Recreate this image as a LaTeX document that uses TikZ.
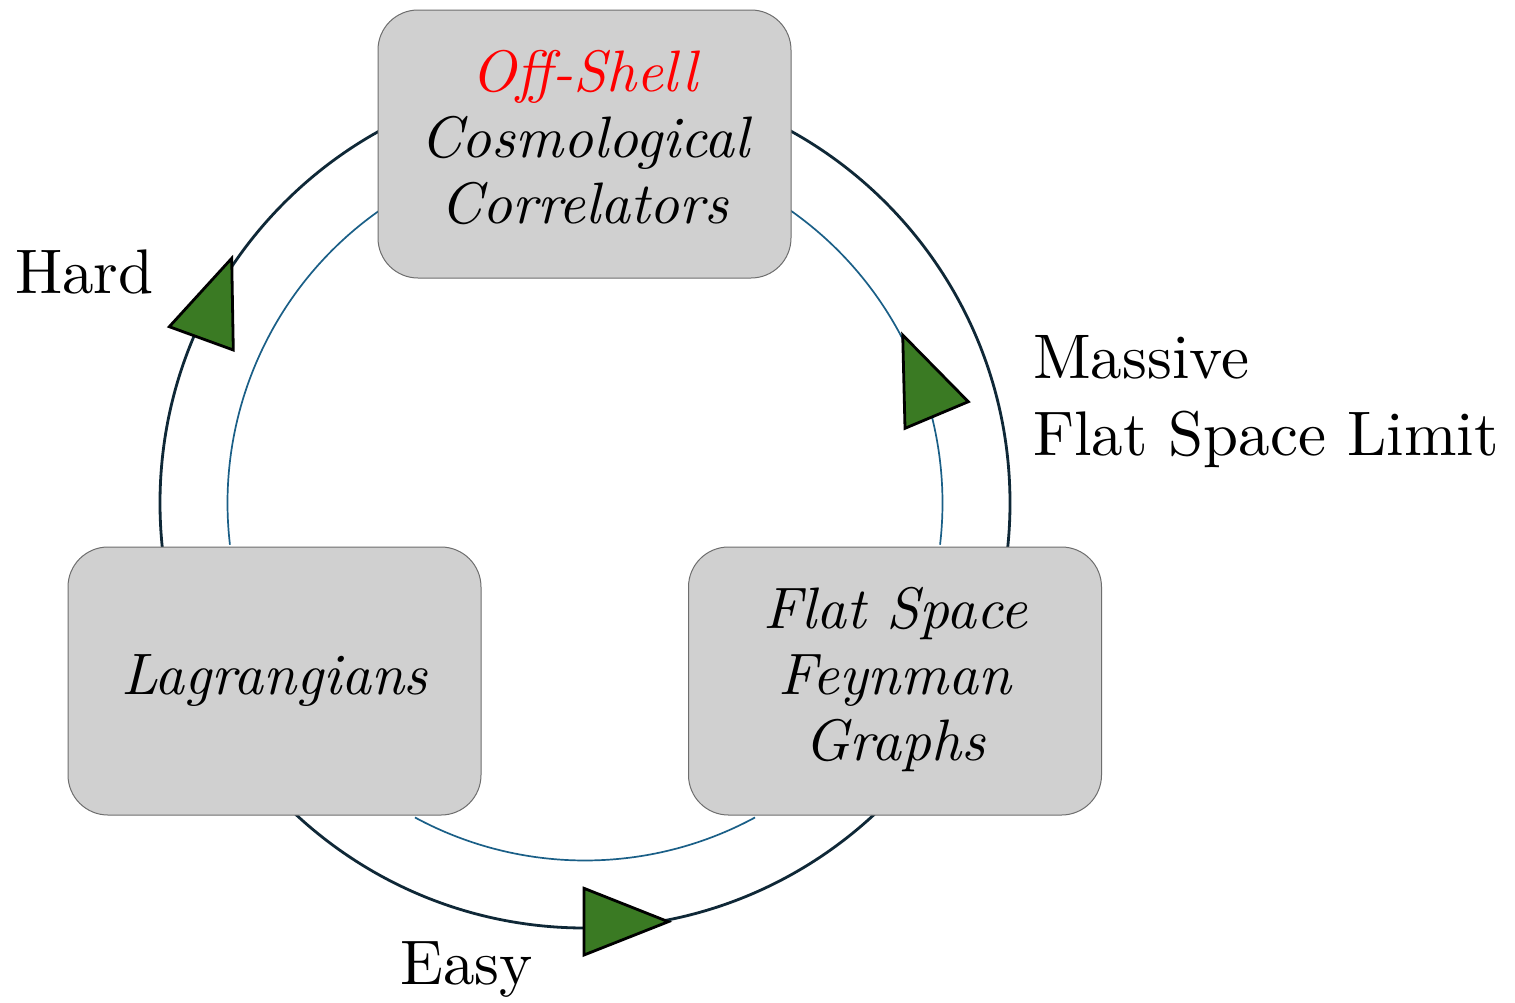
\documentclass[tikz,border=0pt]{standalone}
\usepackage{fontspec}
\setmainfont{lmroman10}[Extension=.otf, UprightFont=*-regular, ItalicFont=*-italic, BoldFont=*-bold, BoldItalicFont=*-bolditalic]
\definecolor{outerc}{RGB}{15,40,55}
\definecolor{innerc}{RGB}{26,95,135}
\definecolor{boxfill}{RGB}{208,208,208}
\definecolor{boxline}{RGB}{110,110,110}
\definecolor{arrowgreen}{RGB}{58,122,35}
\begin{document}
\begin{tikzpicture}[x=1pt,y=-1pt,
  outerring/.style={draw=outerc, line width=2.8pt},
  innerring/.style={draw=innerc, line width=1.7pt},
  box/.style={draw=boxline, line width=1pt, fill=boxfill, rounded corners=40pt,
    minimum width=413pt, minimum height=268pt, inner sep=0pt, align=center,
    font=\fontsize{58.5}{66}\selectfont\itshape},
  lbl/.style={anchor=base west, inner sep=0pt, font=\fontsize{63}{74}\selectfont},
  tri/.style={draw=black, fill=arrowgreen, line width=2.8pt, line join=miter}]
\useasboundingbox (0,0) rectangle (1515,1002);
\fill[white] (0,0) rectangle (1515,1002);
\coordinate (c) at (585,503);
% outer ring
\draw[outerring] (c) circle[radius=425];
% inner arcs
\draw[innerring] (c) ++(-124.5:357.5) arc[start angle=-124.5, end angle=-186.7, radius=357.5];
\draw[innerring] (c) ++(-55.5:357.5) arc[start angle=-55.5, end angle=6.7, radius=357.5];
\draw[innerring] (c) ++(118.4:357.5) arc[start angle=118.4, end angle=61.6, radius=357.5];
% boxes
\node[box] (top) at (584.5,144) {\strut\textcolor{red}{Off-Shell}\\\strut Cosmological\\\strut Correlators};
\node[box] (lag) at (274.5,681) {\strut Lagrangians};
\node[box] (flat) at (895,681) {\strut Flat Space\\\strut Feynman\\\strut Graphs};
% arrow triangles
\draw[tri] (231.7,258.3) -- (169.3,326.7) -- (233.3,350) -- cycle;
\draw[tri] (902.7,335) -- (968.3,401.7) -- (905,428.3) -- cycle;
\draw[tri] (584,888.3) -- (668.3,921.7) -- (584,955) -- cycle;
% labels
\node[lbl] (hard) at (15,293) {Hard};
\node[lbl] (mass1) at (1033,378) {Massive};
\node[lbl] (mass2) at (1033,455) {Flat Space Limit};
\node[lbl] (easy) at (400,984) {Easy};
\end{tikzpicture}
\end{document}
